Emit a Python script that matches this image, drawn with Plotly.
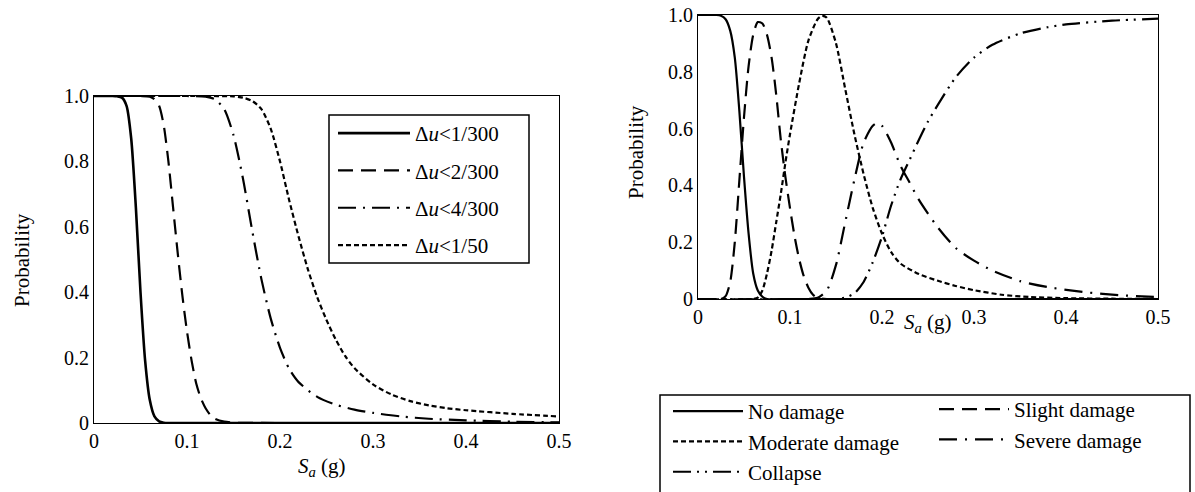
import plotly.graph_objects as go

W, H = 1195, 492

# ---------------- Left chart data ----------------
left_names = ["Δ<i>u</i>&lt;1/300", "Δ<i>u</i>&lt;2/300", "Δ<i>u</i>&lt;4/300", "Δ<i>u</i>&lt;1/50"]

sa_a = [0, 0.02, 0.025, 0.03, 0.035, 0.04, 0.045, 0.05, 0.055, 0.06, 0.065, 0.07, 0.075, 0.08, 0.1, 0.2, 0.3, 0.4, 0.5]
p_a = [1, 1, 0.999, 0.995, 0.97, 0.87, 0.66, 0.40, 0.19, 0.07, 0.02, 0.005, 0.001, 0, 0, 0, 0, 0, 0]

sa_b = [0, 0.05, 0.06, 0.065, 0.07, 0.075, 0.08, 0.085, 0.09, 0.095, 0.1, 0.105, 0.11, 0.115, 0.12, 0.125, 0.13, 0.14, 0.15, 0.2, 0.3, 0.4, 0.5]
p_b = [1, 1, 0.998, 0.99, 0.97, 0.91, 0.80, 0.66, 0.52, 0.39, 0.28, 0.19, 0.12, 0.075, 0.045, 0.025, 0.013, 0.004, 0.001, 0, 0, 0, 0]

sa_c = [0, 0.1, 0.12, 0.13, 0.14, 0.15, 0.16, 0.17, 0.18, 0.19, 0.2, 0.21, 0.22, 0.24, 0.26, 0.28, 0.3, 0.33, 0.36, 0.4, 0.45, 0.5]
p_c = [1, 1, 0.998, 0.99, 0.96, 0.88, 0.75, 0.59, 0.44, 0.32, 0.23, 0.165, 0.125, 0.08, 0.056, 0.041, 0.031, 0.02, 0.013, 0.008, 0.004, 0.002]

sa_d = [0, 0.12, 0.15, 0.16, 0.17, 0.18, 0.19, 0.2, 0.21, 0.22, 0.23, 0.24, 0.25, 0.26, 0.27, 0.28, 0.3, 0.32, 0.34, 0.36, 0.38, 0.4, 0.45, 0.5]
p_d = [1, 1, 0.999, 0.995, 0.985, 0.96, 0.90, 0.80, 0.68, 0.57, 0.47, 0.385, 0.315, 0.255, 0.205, 0.168, 0.118, 0.087, 0.067, 0.054, 0.045, 0.039, 0.028, 0.02]

# ---------------- Right chart data ----------------
right_names = ["No damage", "Slight damage", "Moderate damage", "Severe damage", "Collapse"]

sa_none = [0, 0.02, 0.025, 0.03, 0.035, 0.04, 0.045, 0.05, 0.055, 0.06, 0.065, 0.07, 0.075, 0.1, 0.2, 0.3, 0.4, 0.5]
p_none = [1, 1, 0.997, 0.985, 0.945, 0.85, 0.66, 0.43, 0.23, 0.09, 0.03, 0.008, 0, 0, 0, 0, 0, 0]

sa_slight = [0, 0.025, 0.03, 0.035, 0.04, 0.045, 0.05, 0.055, 0.06, 0.065, 0.07, 0.075, 0.08, 0.085, 0.09, 0.095, 0.1, 0.105, 0.11, 0.115, 0.12, 0.125, 0.13, 0.14, 0.2, 0.3, 0.4, 0.5]
p_slight = [0, 0, 0.01, 0.06, 0.2, 0.42, 0.64, 0.82, 0.93, 0.975, 0.97, 0.93, 0.85, 0.72, 0.56, 0.43, 0.32, 0.22, 0.14, 0.08, 0.04, 0.015, 0.004, 0, 0, 0, 0, 0]

sa_mod = [0, 0.06, 0.065, 0.07, 0.075, 0.08, 0.085, 0.09, 0.095, 0.1, 0.11, 0.12, 0.13, 0.135, 0.14, 0.15, 0.16, 0.17, 0.18, 0.19, 0.2, 0.21, 0.22, 0.24, 0.26, 0.28, 0.3, 0.33, 0.36, 0.4, 0.45, 0.5]
p_mod = [0, 0, 0.005, 0.03, 0.09, 0.17, 0.27, 0.37, 0.48, 0.58, 0.76, 0.91, 0.985, 0.997, 0.99, 0.9, 0.74, 0.58, 0.44, 0.32, 0.23, 0.165, 0.125, 0.088, 0.065, 0.046, 0.031, 0.015, 0.007, 0.003, 0.001, 0]

sa_sev = [0, 0.12, 0.13, 0.14, 0.15, 0.16, 0.17, 0.18, 0.19, 0.195, 0.2, 0.21, 0.22, 0.23, 0.24, 0.26, 0.28, 0.3, 0.32, 0.35, 0.38, 0.42, 0.46, 0.5]
p_sev = [0, 0, 0.004, 0.03, 0.12, 0.27, 0.42, 0.55, 0.61, 0.62, 0.61, 0.55, 0.47, 0.41, 0.35, 0.255, 0.18, 0.135, 0.1, 0.063, 0.042, 0.024, 0.013, 0.007]

sa_col = [0, 0.15, 0.16, 0.17, 0.18, 0.19, 0.2, 0.21, 0.22, 0.23, 0.24, 0.25, 0.26, 0.28, 0.3, 0.32, 0.35, 0.38, 0.4, 0.45, 0.5]
p_col = [0, 0, 0.005, 0.02, 0.06, 0.13, 0.22, 0.33, 0.42, 0.49, 0.56, 0.625, 0.68, 0.78, 0.85, 0.895, 0.935, 0.957, 0.967, 0.98, 0.987]

x_tickvals = [0, 0.1, 0.2, 0.3, 0.4, 0.5]
x_ticktext = ["0", "0.1", "0.2", "0.3", "0.4", "0.5"]
y_tickvals = [0, 0.2, 0.4, 0.6, 0.8, 1.0]
y_ticktext = ["0", "0.2", "0.4", "0.6", "0.8", "1.0"]

FONT = "Liberation Serif, Times New Roman, Times, serif"


def px_x(p):
    return p / W


def px_y(p):
    return 1 - p / H


fig = go.Figure()

left_series = [(sa_a, p_a, "solid", 2.6), (sa_b, p_b, "15px,8px", 2.2),
               (sa_c, p_c, "18px,7px,2px,7px", 2.2), (sa_d, p_d, "5px,3px", 2.2)]
for i, (xs, ys, dash, w) in enumerate(left_series):
    fig.add_trace(go.Scatter(x=xs, y=ys, mode="lines", name=left_names[i],
                             line=dict(color="black", width=w, dash=dash, shape="spline", smoothing=0.7),
                             xaxis="x", yaxis="y", legend="legend", legendgroup="L%d" % i))

right_series = [(sa_none, p_none, "solid", 2.2, "legend2"),
                (sa_slight, p_slight, "15px,8px", 2.2, "legend3"),
                (sa_mod, p_mod, "5px,3px", 2.2, "legend2"),
                (sa_sev, p_sev, "18px,8px,2px,8px", 2.2, "legend3"),
                (sa_col, p_col, "18px,6px,2px,6px,2px,6px", 2.2, "legend2")]
for i, (xs, ys, dash, w, lg) in enumerate(right_series):
    fig.add_trace(go.Scatter(x=xs, y=ys, mode="lines", name=right_names[i],
                             line=dict(color="black", width=w, dash=dash, shape="spline", smoothing=0.7),
                             xaxis="x2", yaxis="y2", legend=lg))

axis_common = dict(showline=True, mirror=True, linecolor="black", linewidth=1.2,
                   showgrid=False, zeroline=False, ticks="", automargin=False,
                   tickfont=dict(family=FONT, size=20, color="black"))

txt = dict(family=FONT, size=21, color="black")

fig.update_layout(
    width=W, height=H,
    margin=dict(l=0, r=0, t=0, b=0, autoexpand=False),
    paper_bgcolor="white", plot_bgcolor="white",
    font=txt,
    xaxis=dict(domain=[px_x(94), px_x(559)], range=[0, 0.5], tickvals=x_tickvals, ticktext=x_ticktext,
               anchor="y", **axis_common),
    yaxis=dict(domain=[px_y(423), px_y(96)], range=[0, 1], tickvals=y_tickvals, ticktext=y_ticktext,
               anchor="x", **axis_common),
    xaxis2=dict(domain=[px_x(698), px_x(1158)], range=[0, 0.5], tickvals=x_tickvals, ticktext=x_ticktext,
                anchor="y2", **axis_common),
    yaxis2=dict(domain=[px_y(299), px_y(15)], range=[0, 1], tickvals=y_tickvals, ticktext=y_ticktext,
                anchor="x2", **axis_common),
    legend=dict(x=px_x(333), y=px_y(113), xanchor="left", yanchor="top",
                borderwidth=0, bgcolor="rgba(0,0,0,0)", font=txt,
                itemwidth=72, tracegroupgap=7),
    legend2=dict(x=px_x(668), y=px_y(391), xanchor="left", yanchor="top",
                 borderwidth=0, bgcolor="rgba(0,0,0,0)", font=txt,
                 itemwidth=70, tracegroupgap=0),
    legend3=dict(x=px_x(934), y=px_y(389), xanchor="left", yanchor="top",
                 borderwidth=0, bgcolor="rgba(0,0,0,0)", font=txt,
                 itemwidth=70, tracegroupgap=0),
    shapes=[dict(type="rect", xref="paper", yref="paper",
                 x0=px_x(329), x1=px_x(529), y0=px_y(263), y1=px_y(115),
                 line=dict(color="black", width=1.5), fillcolor="rgba(0,0,0,0)", layer="below"),
            dict(type="rect", xref="paper", yref="paper",
                 x0=px_x(660), x1=px_x(1190), y0=-0.05, y1=px_y(395),
                 line=dict(color="black", width=1.5), fillcolor="rgba(0,0,0,0)")],
    annotations=[
        dict(text="Probability", xref="paper", yref="paper", x=px_x(22), y=px_y(260),
             xanchor="center", yanchor="middle", showarrow=False, textangle=-90, font=txt),
        dict(text="<i>S</i><sub><i>a</i></sub> (g)", xref="paper", yref="paper", x=px_x(322), y=px_y(467),
             xanchor="center", yanchor="middle", showarrow=False, font=txt),
        dict(text="Probability", xref="paper", yref="paper", x=px_x(636), y=px_y(152),
             xanchor="center", yanchor="middle", showarrow=False, textangle=-90, font=txt),
        dict(text="<i>S</i><sub><i>a</i></sub> (g)", xref="paper", yref="paper", x=px_x(928), y=px_y(323),
             xanchor="center", yanchor="middle", showarrow=False, font=txt),
    ],
)

fig.write_html("out.html")
